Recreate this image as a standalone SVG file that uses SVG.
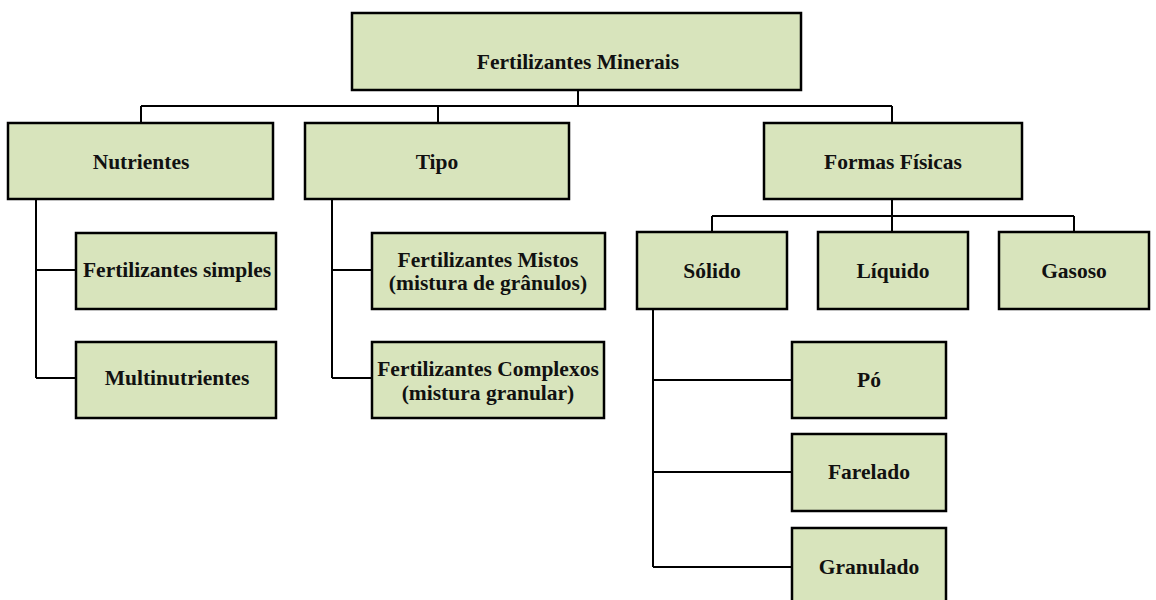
<svg xmlns="http://www.w3.org/2000/svg" width="1156" height="600" viewBox="0 0 1156 600">
<style>
.box{fill:#d8e4bc;stroke:#000;stroke-width:2.5}
.lbl{font-family:'Liberation Serif','Times New Roman',serif;font-weight:700;font-size:21.5px;fill:#111;text-anchor:middle}
.conn{fill:none;stroke:#000;stroke-width:2}
</style>
<rect width="1156" height="600" fill="#fff"/>
<g id="connectors">
<path class="conn" d="M578 90V106M141 106H892M141 106V123M438 106V123M892 106V123"/>
<path class="conn" d="M36 199V378M36 270H76M36 378H76"/>
<path class="conn" d="M332 199V378M332 270H372M332 378H372"/>
<path class="conn" d="M892 199V216M712 216H1074M712 216V232M892 216V232M1074 216V232"/>
<path class="conn" d="M653 309V567M653 380H792M653 472H792M653 567H792"/>
</g>
<g id="root"><rect class="box" x="352" y="13" width="449" height="77"/><text class="lbl" x="578" y="69">Fertilizantes Minerais</text></g>
<g id="nutrientes"><rect class="box" x="8" y="123" width="265" height="76"/><text class="lbl" x="141" y="169">Nutrientes</text></g>
<g id="tipo"><rect class="box" x="305" y="123" width="264" height="76"/><text class="lbl" x="437" y="169">Tipo</text></g>
<g id="formas"><rect class="box" x="764" y="123" width="258" height="76"/><text class="lbl" x="893" y="169">Formas Físicas</text></g>
<g id="simples"><rect class="box" x="76" y="233" width="200" height="76"/><text class="lbl" x="177" y="277">Fertilizantes simples</text></g>
<g id="multi"><rect class="box" x="76" y="342" width="200" height="76"/><text class="lbl" x="177" y="385">Multinutrientes</text></g>
<g id="mistos"><rect class="box" x="372" y="233" width="233" height="76"/><text class="lbl" x="488" y="267">Fertilizantes Mistos</text><text class="lbl" x="488" y="290">(mistura de grânulos)</text></g>
<g id="complexos"><rect class="box" x="372" y="342" width="232" height="76"/><text class="lbl" x="488" y="376">Fertilizantes Complexos</text><text class="lbl" x="488" y="400">(mistura granular)</text></g>
<g id="solido"><rect class="box" x="637" y="232" width="150" height="77"/><text class="lbl" x="712" y="278">Sólido</text></g>
<g id="liquido"><rect class="box" x="818" y="232" width="150" height="77"/><text class="lbl" x="893" y="278">Líquido</text></g>
<g id="gasoso"><rect class="box" x="999" y="232" width="150" height="77"/><text class="lbl" x="1074" y="278">Gasoso</text></g>
<g id="po"><rect class="box" x="792" y="342" width="154" height="76"/><text class="lbl" x="869" y="387">Pó</text></g>
<g id="farelado"><rect class="box" x="792" y="434" width="154" height="77"/><text class="lbl" x="869" y="479">Farelado</text></g>
<g id="granulado"><rect class="box" x="792" y="528" width="154" height="90"/><text class="lbl" x="869" y="574">Granulado</text></g>
</svg>
